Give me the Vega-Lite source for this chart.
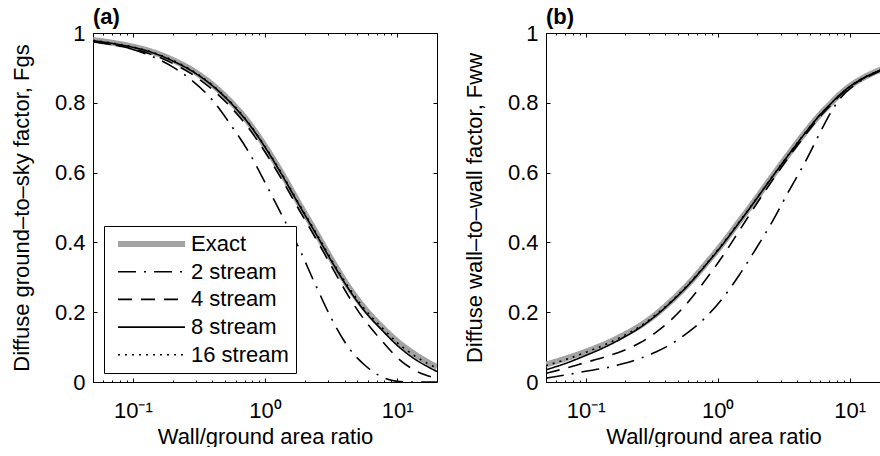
{
  "$schema": "https://vega.github.io/schema/vega-lite/v6.json",
  "background": "white",
  "padding": {"left": 10, "top": 6, "right": 0, "bottom": 0},
  "bounds": "flush",
  "spacing": 109,
  "config": {
    "font": "Liberation Sans",
    "view": {"stroke": null},
    "axis": {
      "labelFont": "Liberation Sans", "labelFontSize": 22, "labelColor": "black",
      "titleFont": "Liberation Sans", "titleFontSize": 22, "titleFontWeight": "normal", "titleColor": "black",
      "tickColor": "black", "tickWidth": 1, "domainColor": "black", "domainWidth": 1, "grid": false,
      "labelFlush": false, "labelOverlap": false
    },
    "title": {"font": "Liberation Sans", "fontSize": 22, "fontWeight": "bold", "anchor": "start", "frame": "group", "color": "black", "offset": -7},
    "legend": {"labelFont": "Liberation Sans", "labelFontSize": 22, "labelColor": "black"}
  },
  "resolve": {"scale": {"color": "independent", "strokeDash": "independent", "strokeWidth": "independent"}},
  "datasets": {
    "a": [
      {"series": "Exact", "ratio": 0.05, "F": 0.980}, {"series": "Exact", "ratio": 0.07, "F": 0.972}, {"series": "Exact", "ratio": 0.1, "F": 0.961}, {"series": "Exact", "ratio": 0.14, "F": 0.946}, {"series": "Exact", "ratio": 0.2, "F": 0.923}, {"series": "Exact", "ratio": 0.28, "F": 0.894}, {"series": "Exact", "ratio": 0.4, "F": 0.852}, {"series": "Exact", "ratio": 0.55, "F": 0.803}, {"series": "Exact", "ratio": 0.75, "F": 0.744}, {"series": "Exact", "ratio": 1.0, "F": 0.676}, {"series": "Exact", "ratio": 1.35, "F": 0.596}, {"series": "Exact", "ratio": 1.8, "F": 0.513}, {"series": "Exact", "ratio": 2.4, "F": 0.432}, {"series": "Exact", "ratio": 3.2, "F": 0.350}, {"series": "Exact", "ratio": 4.3, "F": 0.272}, {"series": "Exact", "ratio": 5.7, "F": 0.210}, {"series": "Exact", "ratio": 7.7, "F": 0.157}, {"series": "Exact", "ratio": 10, "F": 0.117}, {"series": "Exact", "ratio": 13.8, "F": 0.078}, {"series": "Exact", "ratio": 17, "F": 0.057}, {"series": "Exact", "ratio": 20, "F": 0.043},
      {"series": "2 stream", "ratio": 0.05, "F": 0.975}, {"series": "2 stream", "ratio": 0.07, "F": 0.966}, {"series": "2 stream", "ratio": 0.1, "F": 0.953}, {"series": "2 stream", "ratio": 0.14, "F": 0.933}, {"series": "2 stream", "ratio": 0.2, "F": 0.903}, {"series": "2 stream", "ratio": 0.28, "F": 0.864}, {"series": "2 stream", "ratio": 0.4, "F": 0.808}, {"series": "2 stream", "ratio": 0.55, "F": 0.737}, {"series": "2 stream", "ratio": 0.75, "F": 0.660}, {"series": "2 stream", "ratio": 1.0, "F": 0.572}, {"series": "2 stream", "ratio": 1.35, "F": 0.476}, {"series": "2 stream", "ratio": 1.8, "F": 0.385}, {"series": "2 stream", "ratio": 2.4, "F": 0.280}, {"series": "2 stream", "ratio": 3.2, "F": 0.180}, {"series": "2 stream", "ratio": 4.3, "F": 0.098}, {"series": "2 stream", "ratio": 5.7, "F": 0.048}, {"series": "2 stream", "ratio": 7.7, "F": 0.014}, {"series": "2 stream", "ratio": 10, "F": 0.002}, {"series": "2 stream", "ratio": 13.8, "F": 0.0}, {"series": "2 stream", "ratio": 17, "F": 0.0}, {"series": "2 stream", "ratio": 20, "F": 0.0},
      {"series": "4 stream", "ratio": 0.05, "F": 0.976}, {"series": "4 stream", "ratio": 0.07, "F": 0.967}, {"series": "4 stream", "ratio": 0.1, "F": 0.955}, {"series": "4 stream", "ratio": 0.14, "F": 0.938}, {"series": "4 stream", "ratio": 0.2, "F": 0.913}, {"series": "4 stream", "ratio": 0.28, "F": 0.882}, {"series": "4 stream", "ratio": 0.4, "F": 0.838}, {"series": "4 stream", "ratio": 0.55, "F": 0.788}, {"series": "4 stream", "ratio": 0.75, "F": 0.728}, {"series": "4 stream", "ratio": 1.0, "F": 0.659}, {"series": "4 stream", "ratio": 1.35, "F": 0.578}, {"series": "4 stream", "ratio": 1.8, "F": 0.495}, {"series": "4 stream", "ratio": 2.4, "F": 0.414}, {"series": "4 stream", "ratio": 3.2, "F": 0.330}, {"series": "4 stream", "ratio": 4.3, "F": 0.245}, {"series": "4 stream", "ratio": 5.7, "F": 0.176}, {"series": "4 stream", "ratio": 7.7, "F": 0.117}, {"series": "4 stream", "ratio": 10, "F": 0.070}, {"series": "4 stream", "ratio": 13.8, "F": 0.032}, {"series": "4 stream", "ratio": 17, "F": 0.018}, {"series": "4 stream", "ratio": 20, "F": 0.010},
      {"series": "8 stream", "ratio": 0.05, "F": 0.978}, {"series": "8 stream", "ratio": 0.07, "F": 0.970}, {"series": "8 stream", "ratio": 0.1, "F": 0.959}, {"series": "8 stream", "ratio": 0.14, "F": 0.944}, {"series": "8 stream", "ratio": 0.2, "F": 0.920}, {"series": "8 stream", "ratio": 0.28, "F": 0.891}, {"series": "8 stream", "ratio": 0.4, "F": 0.849}, {"series": "8 stream", "ratio": 0.55, "F": 0.800}, {"series": "8 stream", "ratio": 0.75, "F": 0.741}, {"series": "8 stream", "ratio": 1.0, "F": 0.673}, {"series": "8 stream", "ratio": 1.35, "F": 0.592}, {"series": "8 stream", "ratio": 1.8, "F": 0.509}, {"series": "8 stream", "ratio": 2.4, "F": 0.428}, {"series": "8 stream", "ratio": 3.2, "F": 0.345}, {"series": "8 stream", "ratio": 4.3, "F": 0.266}, {"series": "8 stream", "ratio": 5.7, "F": 0.202}, {"series": "8 stream", "ratio": 7.7, "F": 0.148}, {"series": "8 stream", "ratio": 10, "F": 0.105}, {"series": "8 stream", "ratio": 13.8, "F": 0.064}, {"series": "8 stream", "ratio": 17, "F": 0.044}, {"series": "8 stream", "ratio": 20, "F": 0.030},
      {"series": "16 stream", "ratio": 0.05, "F": 0.979}, {"series": "16 stream", "ratio": 0.07, "F": 0.971}, {"series": "16 stream", "ratio": 0.1, "F": 0.960}, {"series": "16 stream", "ratio": 0.14, "F": 0.945}, {"series": "16 stream", "ratio": 0.2, "F": 0.922}, {"series": "16 stream", "ratio": 0.28, "F": 0.893}, {"series": "16 stream", "ratio": 0.4, "F": 0.851}, {"series": "16 stream", "ratio": 0.55, "F": 0.802}, {"series": "16 stream", "ratio": 0.75, "F": 0.743}, {"series": "16 stream", "ratio": 1.0, "F": 0.675}, {"series": "16 stream", "ratio": 1.35, "F": 0.595}, {"series": "16 stream", "ratio": 1.8, "F": 0.512}, {"series": "16 stream", "ratio": 2.4, "F": 0.431}, {"series": "16 stream", "ratio": 3.2, "F": 0.349}, {"series": "16 stream", "ratio": 4.3, "F": 0.271}, {"series": "16 stream", "ratio": 5.7, "F": 0.208}, {"series": "16 stream", "ratio": 7.7, "F": 0.155}, {"series": "16 stream", "ratio": 10, "F": 0.113}, {"series": "16 stream", "ratio": 13.8, "F": 0.073}, {"series": "16 stream", "ratio": 17, "F": 0.053}, {"series": "16 stream", "ratio": 20, "F": 0.040}
    ],
    "b": [
      {"series": "Exact", "ratio": 0.05, "F": 0.050}, {"series": "Exact", "ratio": 0.07, "F": 0.067}, {"series": "Exact", "ratio": 0.1, "F": 0.087}, {"series": "Exact", "ratio": 0.14, "F": 0.109}, {"series": "Exact", "ratio": 0.19, "F": 0.133}, {"series": "Exact", "ratio": 0.26, "F": 0.162}, {"series": "Exact", "ratio": 0.34, "F": 0.194}, {"series": "Exact", "ratio": 0.45, "F": 0.234}, {"series": "Exact", "ratio": 0.6, "F": 0.281}, {"series": "Exact", "ratio": 0.8, "F": 0.335}, {"series": "Exact", "ratio": 1.08, "F": 0.395}, {"series": "Exact", "ratio": 1.45, "F": 0.459}, {"series": "Exact", "ratio": 1.93, "F": 0.522}, {"series": "Exact", "ratio": 2.6, "F": 0.590}, {"series": "Exact", "ratio": 3.45, "F": 0.653}, {"series": "Exact", "ratio": 4.6, "F": 0.715}, {"series": "Exact", "ratio": 6.15, "F": 0.772}, {"series": "Exact", "ratio": 7.1, "F": 0.796}, {"series": "Exact", "ratio": 8.2, "F": 0.820}, {"series": "Exact", "ratio": 11, "F": 0.858}, {"series": "Exact", "ratio": 14, "F": 0.880}, {"series": "Exact", "ratio": 17.3, "F": 0.895}, {"series": "Exact", "ratio": 20, "F": 0.902},
      {"series": "2 stream", "ratio": 0.05, "F": 0.011}, {"series": "2 stream", "ratio": 0.07, "F": 0.020}, {"series": "2 stream", "ratio": 0.1, "F": 0.031}, {"series": "2 stream", "ratio": 0.14, "F": 0.040}, {"series": "2 stream", "ratio": 0.19, "F": 0.052}, {"series": "2 stream", "ratio": 0.26, "F": 0.068}, {"series": "2 stream", "ratio": 0.34, "F": 0.086}, {"series": "2 stream", "ratio": 0.45, "F": 0.110}, {"series": "2 stream", "ratio": 0.6, "F": 0.143}, {"series": "2 stream", "ratio": 0.8, "F": 0.183}, {"series": "2 stream", "ratio": 1.08, "F": 0.238}, {"series": "2 stream", "ratio": 1.45, "F": 0.305}, {"series": "2 stream", "ratio": 1.93, "F": 0.379}, {"series": "2 stream", "ratio": 2.6, "F": 0.460}, {"series": "2 stream", "ratio": 3.45, "F": 0.546}, {"series": "2 stream", "ratio": 4.6, "F": 0.630}, {"series": "2 stream", "ratio": 6.15, "F": 0.724}, {"series": "2 stream", "ratio": 7.1, "F": 0.768}, {"series": "2 stream", "ratio": 8.2, "F": 0.805}, {"series": "2 stream", "ratio": 11, "F": 0.852}, {"series": "2 stream", "ratio": 14, "F": 0.876}, {"series": "2 stream", "ratio": 17.3, "F": 0.892}, {"series": "2 stream", "ratio": 20, "F": 0.900},
      {"series": "4 stream", "ratio": 0.05, "F": 0.025}, {"series": "4 stream", "ratio": 0.07, "F": 0.039}, {"series": "4 stream", "ratio": 0.1, "F": 0.056}, {"series": "4 stream", "ratio": 0.14, "F": 0.072}, {"series": "4 stream", "ratio": 0.19, "F": 0.089}, {"series": "4 stream", "ratio": 0.26, "F": 0.113}, {"series": "4 stream", "ratio": 0.34, "F": 0.142}, {"series": "4 stream", "ratio": 0.45, "F": 0.180}, {"series": "4 stream", "ratio": 0.6, "F": 0.230}, {"series": "4 stream", "ratio": 0.8, "F": 0.290}, {"series": "4 stream", "ratio": 1.08, "F": 0.358}, {"series": "4 stream", "ratio": 1.45, "F": 0.432}, {"series": "4 stream", "ratio": 1.93, "F": 0.505}, {"series": "4 stream", "ratio": 2.6, "F": 0.578}, {"series": "4 stream", "ratio": 3.45, "F": 0.644}, {"series": "4 stream", "ratio": 4.6, "F": 0.707}, {"series": "4 stream", "ratio": 6.15, "F": 0.766}, {"series": "4 stream", "ratio": 7.1, "F": 0.791}, {"series": "4 stream", "ratio": 8.2, "F": 0.816}, {"series": "4 stream", "ratio": 11, "F": 0.855}, {"series": "4 stream", "ratio": 14, "F": 0.878}, {"series": "4 stream", "ratio": 17.3, "F": 0.893}, {"series": "4 stream", "ratio": 20, "F": 0.900},
      {"series": "8 stream", "ratio": 0.05, "F": 0.035}, {"series": "8 stream", "ratio": 0.07, "F": 0.053}, {"series": "8 stream", "ratio": 0.1, "F": 0.076}, {"series": "8 stream", "ratio": 0.14, "F": 0.100}, {"series": "8 stream", "ratio": 0.19, "F": 0.126}, {"series": "8 stream", "ratio": 0.26, "F": 0.157}, {"series": "8 stream", "ratio": 0.34, "F": 0.190}, {"series": "8 stream", "ratio": 0.45, "F": 0.231}, {"series": "8 stream", "ratio": 0.6, "F": 0.278}, {"series": "8 stream", "ratio": 0.8, "F": 0.332}, {"series": "8 stream", "ratio": 1.08, "F": 0.392}, {"series": "8 stream", "ratio": 1.45, "F": 0.456}, {"series": "8 stream", "ratio": 1.93, "F": 0.520}, {"series": "8 stream", "ratio": 2.6, "F": 0.588}, {"series": "8 stream", "ratio": 3.45, "F": 0.651}, {"series": "8 stream", "ratio": 4.6, "F": 0.713}, {"series": "8 stream", "ratio": 6.15, "F": 0.771}, {"series": "8 stream", "ratio": 7.1, "F": 0.795}, {"series": "8 stream", "ratio": 8.2, "F": 0.819}, {"series": "8 stream", "ratio": 11, "F": 0.857}, {"series": "8 stream", "ratio": 14, "F": 0.879}, {"series": "8 stream", "ratio": 17.3, "F": 0.894}, {"series": "8 stream", "ratio": 20, "F": 0.901},
      {"series": "16 stream", "ratio": 0.05, "F": 0.047}, {"series": "16 stream", "ratio": 0.07, "F": 0.064}, {"series": "16 stream", "ratio": 0.1, "F": 0.085}, {"series": "16 stream", "ratio": 0.14, "F": 0.107}, {"series": "16 stream", "ratio": 0.19, "F": 0.131}, {"series": "16 stream", "ratio": 0.26, "F": 0.160}, {"series": "16 stream", "ratio": 0.34, "F": 0.193}, {"series": "16 stream", "ratio": 0.45, "F": 0.233}, {"series": "16 stream", "ratio": 0.6, "F": 0.280}, {"series": "16 stream", "ratio": 0.8, "F": 0.334}, {"series": "16 stream", "ratio": 1.08, "F": 0.394}, {"series": "16 stream", "ratio": 1.45, "F": 0.458}, {"series": "16 stream", "ratio": 1.93, "F": 0.521}, {"series": "16 stream", "ratio": 2.6, "F": 0.589}, {"series": "16 stream", "ratio": 3.45, "F": 0.652}, {"series": "16 stream", "ratio": 4.6, "F": 0.714}, {"series": "16 stream", "ratio": 6.15, "F": 0.771}, {"series": "16 stream", "ratio": 7.1, "F": 0.795}, {"series": "16 stream", "ratio": 8.2, "F": 0.819}, {"series": "16 stream", "ratio": 11, "F": 0.857}, {"series": "16 stream", "ratio": 14, "F": 0.879}, {"series": "16 stream", "ratio": 17.3, "F": 0.894}, {"series": "16 stream", "ratio": 20, "F": 0.901}
    ]
  },
  "hconcat": [
    {
      "title": {"text": "(a)"},
      "width": 344,
      "height": 349,
      "data": {"name": "a"},
      "layer": [
        {
          "transform": [{"filter": "datum.series == 'Exact'"}],
          "mark": {"type": "line", "clip": true, "interpolate": "monotone"},
          "encoding": {
            "x": {"field": "ratio", "type": "quantitative",
              "scale": {"type": "log", "domain": [0.05, 20], "nice": false},
              "axis": {"orient": "bottom", "title": "Wall/ground area ratio",
                "values": [0.05,0.06,0.07,0.08,0.09,0.1,0.2,0.3,0.4,0.5,0.6,0.7,0.8,0.9,1,2,3,4,5,6,7,8,9,10],
                "labelExpr": "datum.value == 0.1 ? '10⁻¹' : datum.value == 1 ? '10⁰' : datum.value == 10 ? '10¹' : ''",
                "tickSize": {"condition": {"test": "datum.value == 0.1 || datum.value == 1 || datum.value == 10", "value": -4}, "value": -2},
                "labelPadding": 22, "titlePadding": 3}},
            "y": {"field": "F", "type": "quantitative",
              "scale": {"domain": [0, 1], "nice": false},
              "axis": {"orient": "left", "title": "Diffuse ground–to–sky factor, Fgs",
                "values": [0, 0.2, 0.4, 0.6, 0.8, 1], "format": "~g", "tickSize": -4, "labelPadding": 12, "titlePadding": 21}},
            "color": {"field": "series", "type": "nominal",
              "scale": {"domain": ["Exact", "2 stream", "4 stream", "8 stream", "16 stream"], "range": ["#a3a3a3", "black", "black", "black", "black"]},
              "legend": {"orient": "none", "legendX": 11, "legendY": 193, "title": null, "symbolType": "stroke", "symbolSize": 4489,
                "padding": 7, "symbolOffset": 4, "labelOffset": 3, "rowPadding": 5.7, "clipHeight": 22,
                "strokeColor": "black", "fillColor": "white", "labelFontSize": 22}},
            "strokeDash": {"field": "series", "type": "nominal",
              "scale": {"type": "ordinal", "domain": ["Exact", "2 stream", "4 stream", "8 stream", "16 stream"], "range": [[1, 0], [18, 8, 2, 8], [14, 9], [1, 0], [2, 5]]}},
            "strokeWidth": {"field": "series", "type": "nominal",
              "scale": {"type": "ordinal", "domain": ["Exact", "2 stream", "4 stream", "8 stream", "16 stream"], "range": [6, 1.6, 1.6, 1.6, 1.6]}}
          }
        },
        {
          "transform": [{"filter": "datum.series != 'Exact'"}],
          "mark": {"type": "line", "clip": true, "interpolate": "monotone"},
          "encoding": {
            "x": {"field": "ratio", "type": "quantitative",
              "scale": {"type": "log", "domain": [0.05, 20], "nice": false},
              "axis": {"orient": "top", "title": null, "labels": false,
                "values": [0.05,0.06,0.07,0.08,0.09,0.1,0.2,0.3,0.4,0.5,0.6,0.7,0.8,0.9,1,2,3,4,5,6,7,8,9,10],
                "tickSize": {"condition": {"test": "datum.value == 0.1 || datum.value == 1 || datum.value == 10", "value": -4}, "value": -2}}},
            "y": {"field": "F", "type": "quantitative",
              "scale": {"domain": [0, 1], "nice": false},
              "axis": {"orient": "right", "title": null, "labels": false, "values": [0, 0.2, 0.4, 0.6, 0.8, 1], "tickSize": -4}},
            "color": {"field": "series", "type": "nominal",
              "scale": {"domain": ["Exact", "2 stream", "4 stream", "8 stream", "16 stream"], "range": ["#a3a3a3", "black", "black", "black", "black"]}},
            "strokeDash": {"field": "series", "type": "nominal",
              "scale": {"type": "ordinal", "domain": ["Exact", "2 stream", "4 stream", "8 stream", "16 stream"], "range": [[1, 0], [18, 8, 2, 8], [14, 9], [1, 0], [2, 5]]}},
            "strokeWidth": {"field": "series", "type": "nominal",
              "scale": {"type": "ordinal", "domain": ["Exact", "2 stream", "4 stream", "8 stream", "16 stream"], "range": [6, 1.6, 1.6, 1.6, 1.6]}}
          }
        }
      ]
    },
    {
      "title": {"text": "(b)"},
      "width": 335,
      "height": 349,
      "data": {"name": "b"},
      "layer": [
        {
          "transform": [{"filter": "datum.series == 'Exact'"}],
          "mark": {"type": "line", "clip": true, "interpolate": "monotone"},
          "encoding": {
            "x": {"field": "ratio", "type": "quantitative",
              "scale": {"type": "log", "domain": [0.05, 17.3], "nice": false},
              "axis": {"orient": "bottom", "title": "Wall/ground area ratio",
                "values": [0.05,0.06,0.07,0.08,0.09,0.1,0.2,0.3,0.4,0.5,0.6,0.7,0.8,0.9,1,2,3,4,5,6,7,8,9,10],
                "labelExpr": "datum.value == 0.1 ? '10⁻¹' : datum.value == 1 ? '10⁰' : datum.value == 10 ? '10¹' : ''",
                "tickSize": {"condition": {"test": "datum.value == 0.1 || datum.value == 1 || datum.value == 10", "value": -4}, "value": -2},
                "labelPadding": 22, "titlePadding": 3}},
            "y": {"field": "F", "type": "quantitative",
              "scale": {"domain": [0, 1], "nice": false},
              "axis": {"orient": "left", "title": "Diffuse wall–to–wall factor, Fww",
                "values": [0, 0.2, 0.4, 0.6, 0.8, 1], "format": "~g", "tickSize": -4, "labelPadding": 12, "titlePadding": 21}},
            "color": {"field": "series", "type": "nominal",
              "scale": {"domain": ["Exact", "2 stream", "4 stream", "8 stream", "16 stream"], "range": ["#a3a3a3", "black", "black", "black", "black"]}, "legend": null},
            "strokeDash": {"field": "series", "type": "nominal",
              "scale": {"type": "ordinal", "domain": ["Exact", "2 stream", "4 stream", "8 stream", "16 stream"], "range": [[1, 0], [18, 8, 2, 8], [14, 9], [1, 0], [2, 5]]}, "legend": null},
            "strokeWidth": {"field": "series", "type": "nominal",
              "scale": {"type": "ordinal", "domain": ["Exact", "2 stream", "4 stream", "8 stream", "16 stream"], "range": [6, 1.6, 1.6, 1.6, 1.6]}, "legend": null}
          }
        },
        {
          "transform": [{"filter": "datum.series != 'Exact'"}],
          "mark": {"type": "line", "clip": true, "interpolate": "monotone"},
          "encoding": {
            "x": {"field": "ratio", "type": "quantitative",
              "scale": {"type": "log", "domain": [0.05, 17.3], "nice": false},
              "axis": {"orient": "top", "title": null, "labels": false,
                "values": [0.05,0.06,0.07,0.08,0.09,0.1,0.2,0.3,0.4,0.5,0.6,0.7,0.8,0.9,1,2,3,4,5,6,7,8,9,10],
                "tickSize": {"condition": {"test": "datum.value == 0.1 || datum.value == 1 || datum.value == 10", "value": -4}, "value": -2}}},
            "y": {"field": "F", "type": "quantitative",
              "scale": {"domain": [0, 1], "nice": false}},
            "color": {"field": "series", "type": "nominal",
              "scale": {"domain": ["Exact", "2 stream", "4 stream", "8 stream", "16 stream"], "range": ["#a3a3a3", "black", "black", "black", "black"]}, "legend": null},
            "strokeDash": {"field": "series", "type": "nominal",
              "scale": {"type": "ordinal", "domain": ["Exact", "2 stream", "4 stream", "8 stream", "16 stream"], "range": [[1, 0], [18, 8, 2, 8], [14, 9], [1, 0], [2, 5]]}, "legend": null},
            "strokeWidth": {"field": "series", "type": "nominal",
              "scale": {"type": "ordinal", "domain": ["Exact", "2 stream", "4 stream", "8 stream", "16 stream"], "range": [6, 1.6, 1.6, 1.6, 1.6]}, "legend": null}
          }
        }
      ]
    }
  ]
}
